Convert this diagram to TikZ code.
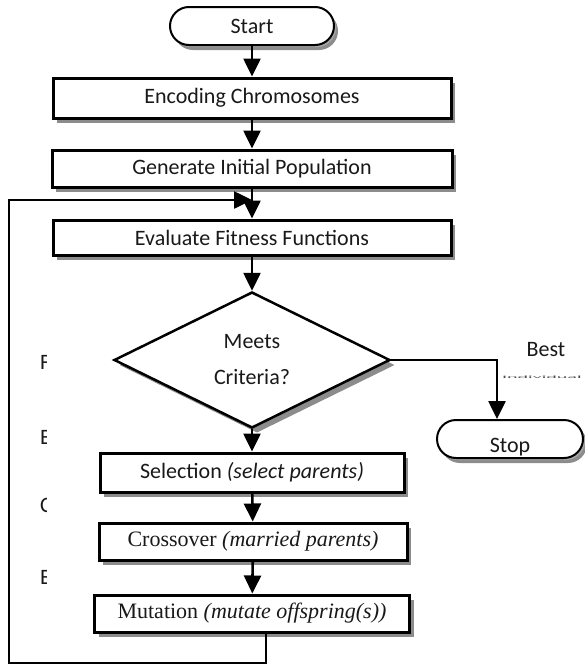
\documentclass[tikz,border=0pt]{standalone}
\usepackage{fontspec}
\setmainfont{Carlito}
\newfontfamily\tnr{Liberation Serif}
\usetikzlibrary{shapes.geometric,shadows,arrows.meta}
\begin{document}
\begin{tikzpicture}[x=1pt,y=-1pt,
  txt/.style={font=\fontsize{22}{26}\selectfont, text=black!90},
  box/.style={txt, draw=black, line width=3pt, fill=white, minimum height=38pt, inner sep=0pt,
    drop shadow={shadow xshift=4pt, shadow yshift=-5pt, fill=black!45, opacity=1}},
  term/.style={box, rounded corners=19pt, line width=2pt,
    drop shadow={shadow xshift=2pt, shadow yshift=-2pt, fill=black!35, opacity=1}},
  dia/.style={txt, diamond, draw=black, line width=2.5pt, fill=white, aspect=2, inner sep=0pt,
    minimum width=276pt, minimum height=136pt, align=center,
    drop shadow={shadow xshift=5pt, shadow yshift=-5pt, fill=black!45, opacity=1}},
  arr/.style={line width=2.6pt, -{Triangle[length=18pt,width=17pt]}},
]
\useasboundingbox (0,0) rectangle (585,667);

\node[term, minimum width=164pt] (start) at (252,26) {Start};
\node[box, minimum width=398pt, minimum height=40pt] (enc) at (252,98) {Encoding Chromosomes};
\node[box, minimum width=400pt, minimum height=37pt] (gen) at (252,168.5) {Generate Initial Population};
\node[box, minimum width=398pt, minimum height=35pt] (eval) at (252,237.5) {Evaluate Fitness Functions};
\node[dia] (dec) at (252,360) {Meets\\[10pt]Criteria?};
\node[term, minimum width=146pt] (stop) at (510,439) {\raisebox{-13pt}[0pt][0pt]{Stop}};
\node[box, minimum width=304pt, minimum height=39pt] (sel) at (252,472.5) {Selection \textit{(select parents)}};
\node[box, minimum width=308pt, minimum height=37pt] (cro) at (253,541.5) {\tnr Crossover \textit{(married parents)}};
\node[box, minimum width=315pt, minimum height=37pt] (mut) at (252,613.5) {\tnr Mutation \textit{(mutate offspring(s))}};

\node[txt] (best) at (546,350) {Best};
\node[font=\fontsize{20}{24}\selectfont, text=black!70, anchor=west, inner sep=0pt] (indiv) at (502,377.5) {\scalebox{1}[0.18]{Individual}};
\begin{scope}
  \clip (38,340) rectangle (46,600);
  \node[txt, anchor=west, inner sep=0pt] (l1) at (40,362) {F};
  \node[txt, anchor=west, inner sep=0pt] (l2) at (40,437) {E};
  \node[txt, anchor=west, inner sep=0pt] (l3) at (40,505) {C};
  \node[txt, anchor=west, inner sep=0pt] (l4) at (40,577) {E};
\end{scope}

\draw[arr] (start) -- (enc);
\draw[arr] (enc) -- (gen);
\draw[arr] (gen) -- (eval);
\draw[arr] (eval) -- (dec);
\draw[arr] (dec) -- (sel);
\draw[arr] (sel) -- (cro);
\draw[arr] (cro) -- (mut);

\coordinate (bend) at (497,360);
\draw[arr] (dec.east) -- (bend) -- (bend |- stop.north);

\coordinate (lp1) at (266,663);
\coordinate (lp2) at (9,663);
\coordinate (lp3) at (9,200);
\coordinate (lptip) at (252,200);
\draw[arr, line join=miter] (mut.south -| lp1) -- (lp1) -- (lp2) -- (lp3) -- (lptip);
\end{tikzpicture}
\end{document}
